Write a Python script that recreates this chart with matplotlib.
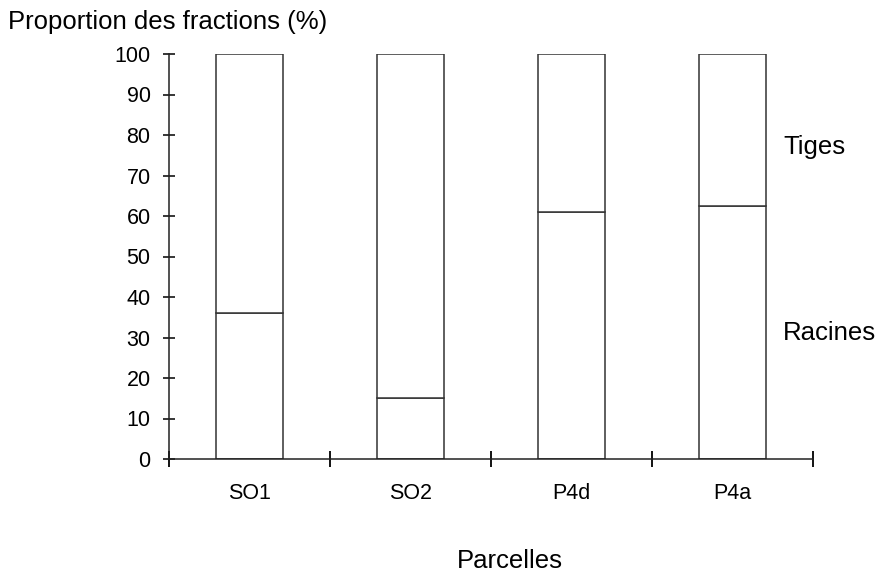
import numpy as np
import matplotlib
matplotlib.use("Agg")
import matplotlib.pyplot as plt

plt.rcParams["font.family"] = ["Liberation Sans", "DejaVu Sans"]

# Data
parcelles = ["SO1", "SO2", "P4d", "P4a"]
racines = [36, 15, 61, 62.5]
tiges = [100 - r for r in racines]

fig = plt.figure(figsize=(8.82, 5.72), dpi=100)
ax = fig.add_axes([169 / 882, 1 - 459 / 572, (813 - 169) / 882, (459 - 54) / 572])

x = np.arange(len(parcelles))
bar_w = 0.41
ax.bar(x, racines, width=bar_w, color="white", edgecolor="#333333", linewidth=1.1)
ax.bar(x, tiges, width=bar_w, bottom=racines, color="white", edgecolor="#333333", linewidth=1.1)

ax.set_xlim(-0.5, len(parcelles) - 0.5)
ax.set_ylim(0, 100)

for side in ["top", "right"]:
    ax.spines[side].set_visible(False)
for side in ["left", "bottom"]:
    ax.spines[side].set_linewidth(1.1)
    ax.spines[side].set_color("#222222")

ax.set_yticks(np.arange(0, 101, 10))
ax.tick_params(axis="y", direction="inout", length=8.6, width=1.1, labelsize=15.5, pad=9)

# major ticks between categories, labels on minor ticks at centers
ax.set_xticks(np.arange(-0.5, len(parcelles), 1.0))
ax.set_xticklabels([])
ax.tick_params(axis="x", which="major", direction="inout", length=11, width=1.3)
ax.set_xticks(x, minor=True)
ax.set_xticklabels(parcelles, minor=True)
ax.tick_params(axis="x", which="minor", length=0, labelsize=15.5, pad=17)

fig.text(8 / 882, 1 - 22 / 572, "Proportion des fractions (%)", fontsize=18.5,
         ha="left", va="center")
fig.text(510 / 882, 1 - 561 / 572, "Parcelles", fontsize=18.5, ha="center", va="center")
fig.text(783 / 882, 1 - 147 / 572, "Tiges", fontsize=18.5, ha="left", va="center")
fig.text(783 / 882, 1 - 333 / 572, "Racines", fontsize=18.5, ha="left", va="center")

fig.savefig("out.png", dpi=100)
